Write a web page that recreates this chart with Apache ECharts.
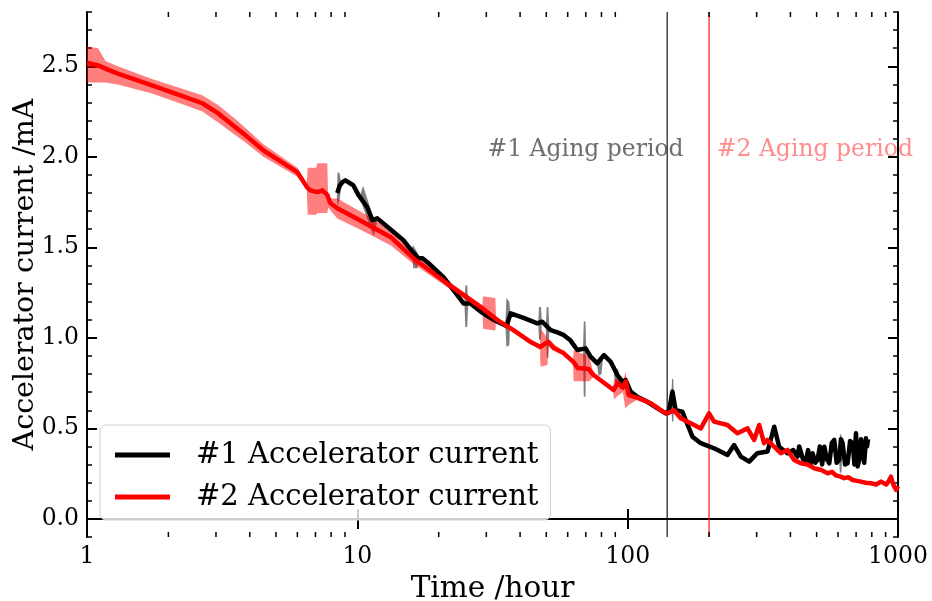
<!DOCTYPE html>
<html><head><meta charset="utf-8">
<script src="https://cdn.jsdelivr.net/npm/echarts@6/dist/echarts.min.js"></script>
<style>html,body{margin:0;padding:0;background:#fff}#c{width:932px;height:601px}</style>
</head><body><div id="c"></div>
<script>
const FONT = 'DejaVu Serif';
const X_MIN = 1, X_MAX = 1000, Y_MIN = -0.1, Y_MAX = 2.8;
const xMinorTickValues = [2,3,4,5,6,7,8,9,20,30,40,50,60,70,80,90,200,300,400,500,600,700,800,900];
const yMajorTickValues = [0, 0.5, 1.0, 1.5, 2.0, 2.5];
const seriesNames = ['#1 Accelerator current', '#2 Accelerator current'];
const xAxisName = 'Time /hour';
const yAxisName = 'Accelerator current /mA';

// #1 accelerator current (black)
const time1 = [8.43,8.6,8.8,9.03,9.66,10.09,10.89,11.37,11.86,13.25,14.8,15.71,16.82,17.41,18.17,20.82,22.68,24.71,26.22,28.56,31.9,35.6,36.9,41.2,46.3,48.3,51.9,55.0,58.1,61.5,65.1,69.9,72.9,77.2,81.7,86.5,91.6,95.6,98.3,102.6,108.6,118.3,128.9,138.2,142.3,146.4,150.5,159.4,164,173.6,186.4,208.8,234,247.6,262.2,281.5,302,329,348.4,363.3,390,410,425,431,437,445,456,465,474,483,494,504,514,524,534,545,557,569,581,593,606,615,624,637,651,665,680,690,699,709,719,730,740,750,761,768,775];
const current1 = [1.80,1.84,1.86,1.87,1.843,1.79,1.72,1.65,1.66,1.60,1.54,1.49,1.44,1.44,1.418,1.335,1.264,1.19,1.19,1.145,1.10,1.065,1.135,1.11,1.08,1.089,1.043,1.03,1.015,0.985,0.933,0.942,0.896,0.859,0.905,0.868,0.795,0.758,0.767,0.703,0.675,0.647,0.611,0.583,0.60,0.703,0.60,0.592,0.546,0.454,0.418,0.39,0.353,0.408,0.344,0.316,0.363,0.372,0.509,0.399,0.363,0.38,0.344,0.40,0.399,0.33,0.316,0.38,0.30,0.363,0.31,0.326,0.40,0.30,0.399,0.33,0.307,0.42,0.436,0.31,0.326,0.44,0.418,0.30,0.307,0.43,0.418,0.30,0.473,0.29,0.326,0.44,0.436,0.31,0.445,0.40,0.44];

// #2 accelerator current (red)
const time2 = [1.0,1.1,1.2,1.3,1.74,2.31,2.67,3.06,3.53,3.85,4.49,6.0,6.53,6.7,7.11,7.42,7.74,7.94,8.43,10.5,13.3,16.1,21.5,28.6,33.0,37.8,43.7,47.6,49.7,51.0,53.2,57.9,63.1,65.3,71.7,74.8,88.7,91.8,95.8,98.4,100.8,108.9,121.6,135.9,140.3,148.5,157.1,176.1,186.4,200,208.8,233.9,254.7,277.5,293.6,306.5,319.7,329,348,368.6,390,413,437,463,490,520,549,570,590,610,632,655,680,705,729,760,794,830,865,905,925,942,960,984,1000];
const current2 = [2.52,2.505,2.48,2.46,2.395,2.33,2.296,2.24,2.165,2.12,2.036,1.915,1.83,1.815,1.805,1.815,1.79,1.745,1.716,1.64,1.556,1.44,1.30,1.17,1.098,1.043,0.977,0.95,0.97,0.977,0.944,0.916,0.866,0.833,0.828,0.795,0.712,0.75,0.725,0.76,0.684,0.668,0.64,0.59,0.583,0.60,0.556,0.519,0.50,0.583,0.537,0.519,0.473,0.50,0.436,0.519,0.418,0.436,0.399,0.363,0.381,0.326,0.307,0.30,0.28,0.27,0.252,0.26,0.24,0.235,0.225,0.23,0.215,0.21,0.206,0.20,0.197,0.19,0.206,0.19,0.21,0.233,0.19,0.16,0.18];

// spread bands: [piece, hours, low, high]
const band2 = [
 [0,1.0,2.41,2.61],[0,1.1,2.41,2.60],[0,1.17,2.41,2.53],[0,1.3,2.40,2.50],[0,1.74,2.35,2.43],[0,2.31,2.285,2.37],
 [0,2.67,2.25,2.34],[0,3.06,2.19,2.285],[0,3.53,2.12,2.21],[0,3.85,2.08,2.16],[0,4.49,2.00,2.07],[0,6.0,1.89,1.94],
 [0,6.5,1.82,1.85],[0,6.55,1.68,1.94],[0,7.05,1.68,1.94],[0,7.1,1.69,1.965],[0,7.74,1.69,1.965],[0,7.8,1.72,1.78],
 [0,8.0,1.70,1.77],[0,8.43,1.66,1.77],[0,10.5,1.59,1.69],[0,13.3,1.51,1.60],[0,16.1,1.41,1.47],[0,21.5,1.28,1.32],
 [0,29.0,1.15,1.18],[0,29.2,1.05,1.23],[0,32.4,1.04,1.22],[0,32.6,1.09,1.11],[0,37.8,1.03,1.055],[0,47.4,0.935,0.96],
 [0,47.6,0.84,1.05],[0,50.5,0.85,1.0],[0,51.0,0.965,0.99],[0,57.9,0.905,0.925],[0,62.8,0.855,0.875],[0,63.1,0.76,0.93],
 [0,72,0.76,0.90],[0,74.8,0.785,0.805],[0,88.5,0.70,0.72],[0,89,0.66,0.77],[0,92,0.68,0.78],[0,96,0.70,0.75],
 [0,98,0.61,0.81],[0,101,0.63,0.72],[0,109,0.66,0.675]
];
const band1 = [
 [1,8.40,1.77,1.80],[1,8.45,1.73,1.915],[1,8.6,1.76,1.91],[1,8.7,1.83,1.86],
 [2,10.3,1.76,1.80],[2,10.5,1.72,1.84],[2,11.5,1.56,1.66],[2,11.8,1.63,1.67],
 [3,15.9,1.47,1.50],[3,16.1,1.385,1.51],[3,16.7,1.385,1.47],[3,16.9,1.43,1.45],
 [4,24.9,1.18,1.20],[4,25.1,1.06,1.29],[4,25.5,1.06,1.29],[4,25.7,1.18,1.20],
 [5,35.3,1.06,1.08],[5,35.6,0.95,1.22],[5,36.5,0.96,1.20],[5,36.8,1.12,1.14],
 [6,46.7,1.07,1.09],[6,47.0,0.99,1.17],[6,47.8,0.99,1.17],[6,48.1,1.08,1.10],
 [7,49.8,1.05,1.07],[7,50.2,0.89,1.17],[7,50.9,0.89,1.17],[7,51.3,1.04,1.06],
 [8,68.4,0.93,0.95],[8,68.8,0.675,1.09],[8,69.8,0.675,1.09],[8,70.2,0.93,0.95],
 [9,77,0.85,0.87],[9,78,0.79,0.89],[9,80,0.80,0.90],[9,81,0.88,0.90],
 [10,89,0.80,0.82],[10,90,0.73,0.83],[10,92,0.74,0.83],[10,93,0.78,0.80],
 [11,145,0.64,0.68],[11,146,0.535,0.776],[11,147.5,0.54,0.77],[11,148.5,0.62,0.64],
 [12,605,0.33,0.36],[12,610,0.25,0.47],[12,618,0.26,0.46],[12,622,0.38,0.40]
];

const agingStart = [140, 200];
const agingColors = ['#000000', '#ff0000'];
const annotationText = ['#1 Aging period', '#2 Aging period'];
const annotationColors = ['#4a4a4a', '#ff7070'];
const annotationX = [30.3, 213.6];
const annotationY = [2.04, 2.04];

function bandSeries(rows, color, z) {
  return {
    type: 'custom', coordinateSystem: 'cartesian2d', clip: true, silent: true, z: z,
    data: rows, encode: {x: 1, y: [2, 3]},
    renderItem: function (params, api) {
      if (params.dataIndexInside !== 0) return null;
      const n = params.dataInsideLength;
      const pieces = {};
      for (let i = 0; i < n; i++) {
        const p = api.value(0, i), t = api.value(1, i);
        if (!pieces[p]) pieces[p] = {up: [], lo: []};
        pieces[p].up.push(api.coord([t, api.value(3, i)]));
        pieces[p].lo.push(api.coord([t, api.value(2, i)]));
      }
      const children = Object.keys(pieces).map(function (k) {
        return {type: 'polygon', shape: {points: pieces[k].up.concat(pieces[k].lo.slice().reverse())}, style: {fill: color}};
      });
      return {type: 'group', children: children};
    }
  };
}

function agingLine(i) {
  return {type: 'line', silent: true, symbol: 'none', showSymbol: false, z: 2,
    data: [[agingStart[i], Y_MIN], [agingStart[i], Y_MAX]],
    lineStyle: {color: agingColors[i], width: 1.1}, itemStyle: {color: agingColors[i]}};
}

const chart = echarts.init(document.getElementById('c'), null, {renderer: 'canvas'});
const axisLine = {show: true, lineStyle: {color: '#000', width: 2}};
const baseX = {type: 'log', logBase: 10, min: X_MIN, max: X_MAX, splitLine: {show: false}, axisLine: axisLine};
const baseY = {type: 'value', min: Y_MIN, max: Y_MAX, splitLine: {show: false}, axisLine: axisLine};

chart.setOption({
  animation: false,
  backgroundColor: '#fff',
  grid: {left: 87, right: 34, top: 12, bottom: 64, containLabel: false, outerBoundsMode: 'none'},
  xAxis: [
    Object.assign({}, baseX, {position: 'bottom', name: xAxisName, nameLocation: 'middle', nameGap: 29,
      nameTextStyle: {fontFamily: FONT, fontSize: 29.5, color: '#000'},
      axisTick: {inside: true, length: 10, lineStyle: {width: 2, color: '#000'}},
      axisLabel: {fontFamily: FONT, fontSize: 23.5, color: '#000', margin: 8,
        formatter: function (v) { return String(Math.round(v)); }}}),
    Object.assign({}, baseX, {position: 'top',
      axisTick: {inside: true, length: 10, lineStyle: {width: 2, color: '#000'}},
      axisLabel: {show: false}})
  ],
  yAxis: [
    Object.assign({}, baseY, {position: 'left', name: yAxisName, nameLocation: 'middle', nameGap: 47,
      nameMoveOverlap: false,
      nameTextStyle: {fontFamily: FONT, fontSize: 28.5, color: '#000'},
      axisTick: {inside: true, length: 10, lineStyle: {width: 2, color: '#000'}, customValues: yMajorTickValues},
      axisLabel: {fontFamily: FONT, fontSize: 23.5, color: '#000', margin: 8, customValues: yMajorTickValues,
        formatter: function (v) { return v.toFixed(1); }}}),
    Object.assign({}, baseY, {position: 'left', interval: 0.1, axisLine: {show: false},
      axisTick: {inside: true, length: 5, lineStyle: {width: 1.5, color: '#000'}}, axisLabel: {show: false}}),
    Object.assign({}, baseY, {position: 'right',
      axisTick: {inside: true, length: 10, lineStyle: {width: 2, color: '#000'}, customValues: yMajorTickValues},
      axisLabel: {show: false, customValues: yMajorTickValues}}),
    Object.assign({}, baseY, {position: 'right', interval: 0.1, axisLine: {show: false},
      axisTick: {inside: true, length: 5, lineStyle: {width: 1.5, color: '#000'}}, axisLabel: {show: false}})
  ],
  legend: {
    data: seriesNames, orient: 'vertical', left: 100, top: 425,
    padding: [15, 12, 8, 15], itemGap: 12, itemWidth: 55, itemHeight: 5, icon: 'rect',
    backgroundColor: 'rgba(255,255,255,0.8)', borderColor: '#d0d0d0', borderWidth: 1, borderRadius: 6,
    textStyle: {fontFamily: FONT, fontSize: 29, color: '#000', padding: [0, 0, 0, 21], lineHeight: 30}
  },
  series: [
    bandSeries(band1, 'rgba(0,0,0,0.5)', 1),
    bandSeries(band2, 'rgba(255,0,0,0.5)', 1),
    agingLine(0),
    agingLine(1),
    {
      name: seriesNames[0], type: 'line', showSymbol: false, symbol: 'none', z: 3,
      data: time1.map(function (t, i) { return [t, current1[i]]; }),
      lineStyle: {color: '#000', width: 4.5, join: 'round'}, itemStyle: {color: '#000'}
    },
    {
      name: seriesNames[1], type: 'line', showSymbol: false, symbol: 'none', z: 4,
      data: time2.map(function (t, i) { return [t, current2[i]]; }),
      lineStyle: {color: '#ff0000', width: 4.5, join: 'round'}, itemStyle: {color: '#ff0000'}
    },
    {
      type: 'custom', coordinateSystem: 'cartesian2d', silent: true, clip: false, z: 5,
      data: xMinorTickValues.map(function (v) { return [v, Y_MIN]; }),
      renderItem: function (params, api) {
        const v = api.value(0);
        const b = api.coord([v, Y_MIN]), t = api.coord([v, Y_MAX]);
        const st = {stroke: '#000', lineWidth: 1.5};
        return {type: 'group', children: [
          {type: 'line', shape: {x1: b[0], y1: b[1], x2: b[0], y2: b[1] - 5}, style: st},
          {type: 'line', shape: {x1: t[0], y1: t[1], x2: t[0], y2: t[1] + 5}, style: st}
        ]};
      }
    },
    {
      type: 'scatter', symbolSize: 0, silent: true, z: 6,
      data: annotationX.map(function (x, i) { return {value: [x, annotationY[i]], name: annotationText[i],
        label: {color: annotationColors[i]}}; }),
      label: {show: true, position: [0, 0], align: 'left', verticalAlign: 'middle',
        fontFamily: FONT, fontSize: 23.5, formatter: function (p) { return p.name; }}
    }
  ]
});
</script>
</body></html>
